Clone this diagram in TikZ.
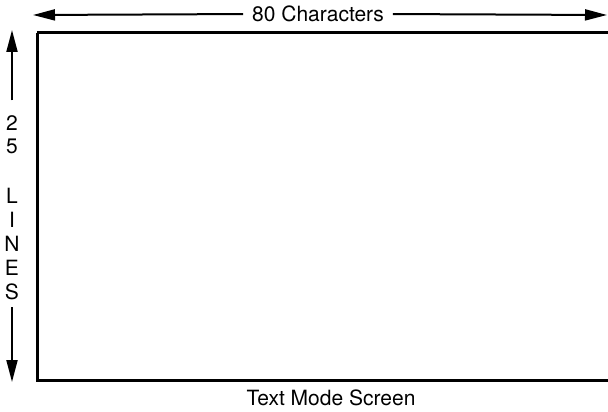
\documentclass[tikz,border=0pt]{standalone}
\usepackage{fontspec}
\setmainfont{TeX Gyre Heros}
\usetikzlibrary{arrows.meta}

\begin{document}
\begin{tikzpicture}[
      x=1pt, y=-1pt,
      font=\fontsize{21}{24}\selectfont,
      screen/.style={line width=3pt},
      dimarrow/.style={-{Triangle[length=22pt, width=11pt]}, line width=2pt},
      lbl/.style={inner sep=0pt}
    ]
    \useasboundingbox (0,0) rectangle (608,412);

    % Screen outline (runs off the right side)
    \draw[screen] (37,33) -- (625,33);
    \draw[screen] (625,380) -- (37,380) -- (37,33);

    % Width
    \node[lbl] (width) at (318,14) {80 Characters};
    \coordinate (lefttip)  at (33,15);
    \coordinate (righttip) at (607,15);
    \draw[dimarrow, shorten <=9pt] (width.west) -- (lefttip);
    \draw[dimarrow, shorten <=9pt] (width.east) -- (righttip);

    % Height
    \foreach \ch/\name/\y in {2/n2/123, 5/n5/146, L/nL/196, I/nI/220, N/nN/244, E/nE/268, S/nS/292}
      \node[lbl] (\name) at (12,\y) {\ch};
    \coordinate (uptip)   at (12,30);
    \coordinate (downtip) at (12,382);
    \draw[dimarrow, shorten <=15pt] (n2.north) -- (uptip);
    \draw[dimarrow, shorten <=7pt] (nS.south) -- (downtip);

    % Caption
    \node[lbl] (caption) at (331,398) {Text Mode Screen};
  \end{tikzpicture}
\end{document}
